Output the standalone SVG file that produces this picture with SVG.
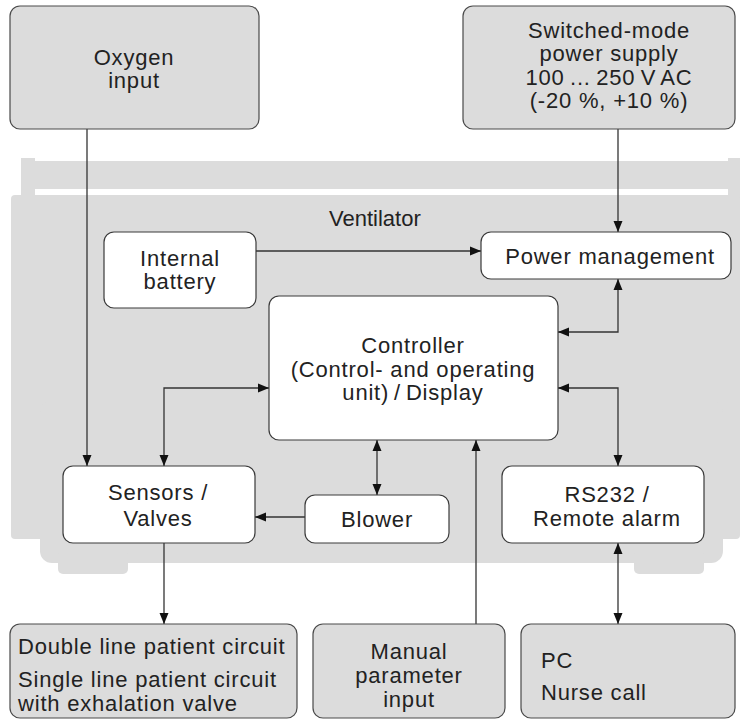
<svg xmlns="http://www.w3.org/2000/svg" width="744" height="719" viewBox="0 0 744 719">
<style>
.t{font-family:"Liberation Sans",Arial,sans-serif;font-size:22px;fill:#222;letter-spacing:0.8px}
.c{text-anchor:middle}
.g{fill:#dcdcdc;stroke:#4a4a4a;stroke-width:1.2}
.w{fill:#fff;stroke:#3a3a3a;stroke-width:1.2}
.body{fill:#dcdcdc}
.ln{fill:none;stroke:#333;stroke-width:1.3}
</style>
<defs>
<marker id="ah" markerUnits="userSpaceOnUse" markerWidth="11" markerHeight="10" refX="11" refY="5" orient="auto-start-reverse" viewBox="0 0 11 10">
<path d="M0,0.5 L11,5 L0,9.5 z" fill="#111"/>
</marker>
</defs>
<g id="ventilator-body">
<rect class="body" x="21" y="158" width="14" height="37"/>
<rect class="body" x="21" y="161" width="707" height="28"/>
<rect class="body" x="728" y="158" width="12" height="42"/>
<rect class="body" x="11" y="195" width="729" height="344" rx="4"/>
<rect class="body" x="40" y="400" width="683" height="163" rx="12"/>
<rect class="body" x="58" y="550" width="70" height="24" rx="5"/>
<rect class="body" x="634" y="550" width="70" height="24" rx="5"/>
<text class="t" x="329" y="226" style="letter-spacing:0">Ventilator</text>
</g>
<g id="connectors">
<path class="ln" d="M87,129 V466" marker-end="url(#ah)"/>
<path class="ln" d="M618,129 V232" marker-end="url(#ah)"/>
<path class="ln" d="M256,251 H481" marker-end="url(#ah)"/>
<path class="ln" d="M618,279 V332 H558" marker-start="url(#ah)" marker-end="url(#ah)"/>
<path class="ln" d="M558,388 H618 V466" marker-start="url(#ah)" marker-end="url(#ah)"/>
<path class="ln" d="M269,388 H164 V466" marker-start="url(#ah)" marker-end="url(#ah)"/>
<path class="ln" d="M377,440 V495" marker-start="url(#ah)" marker-end="url(#ah)"/>
<path class="ln" d="M305,517 H255" marker-end="url(#ah)"/>
<path class="ln" d="M164,543 V624" marker-end="url(#ah)"/>
<path class="ln" d="M476,624 V440" marker-end="url(#ah)"/>
<path class="ln" d="M618,543 V624" marker-start="url(#ah)" marker-end="url(#ah)"/>
</g>
<g id="oxygen-input">
<rect class="g" x="10" y="6" width="249" height="123" rx="10"/>
<text class="t c" x="134" y="65">Oxygen</text>
<text class="t c" x="134" y="88">input</text>
</g>
<g id="power-supply">
<rect class="g" x="463" y="6" width="272" height="123" rx="10"/>
<text class="t c" x="609" y="38">Switched-mode</text>
<text class="t c" x="609" y="61">power supply</text>
<text class="t c" x="609" y="85" style="word-spacing:-1.5px">100 ... 250 V AC</text>
<text class="t c" x="609" y="108">(-20 %, +10 %)</text>
</g>
<g id="internal-battery">
<rect class="w" x="104" y="232" width="152" height="76" rx="10"/>
<text class="t c" x="180" y="266">Internal</text>
<text class="t c" x="180" y="289">battery</text>
</g>
<g id="power-management">
<rect class="w" x="481" y="232" width="250" height="47" rx="10"/>
<text class="t c" x="610" y="264">Power management</text>
</g>
<g id="controller">
<rect class="w" x="269" y="296" width="289" height="144" rx="10"/>
<text class="t c" x="413" y="353">Controller</text>
<text class="t c" x="413" y="377">(Control- and operating</text>
<text class="t c" x="413" y="400" style="word-spacing:-2px">unit) / Display</text>
</g>
<g id="sensors-valves">
<rect class="w" x="63" y="466" width="192" height="77" rx="10"/>
<text class="t c" x="158" y="500">Sensors /</text>
<text class="t c" x="158" y="526">Valves</text>
</g>
<g id="blower">
<rect class="w" x="305" y="495" width="144" height="48" rx="10"/>
<text class="t c" x="377" y="527">Blower</text>
</g>
<g id="rs232">
<rect class="w" x="502" y="466" width="202" height="77" rx="10"/>
<text class="t c" x="607" y="502">RS232 /</text>
<text class="t c" x="607" y="526">Remote alarm</text>
</g>
<g id="patient-circuit">
<rect class="g" x="10" y="624" width="287" height="94" rx="10"/>
<text class="t" x="18" y="654">Double line patient circuit</text>
<text class="t" x="18" y="687">Single line patient circuit</text>
<text class="t" x="18" y="711">with exhalation valve</text>
</g>
<g id="manual-input">
<rect class="g" x="313" y="624" width="192" height="94" rx="10"/>
<text class="t c" x="409" y="659">Manual</text>
<text class="t c" x="409" y="683">parameter</text>
<text class="t c" x="409" y="707">input</text>
</g>
<g id="pc-nurse">
<rect class="g" x="521" y="624" width="214" height="94" rx="10"/>
<text class="t" x="541" y="668">PC</text>
<text class="t" x="541" y="700">Nurse call</text>
</g>
</svg>
